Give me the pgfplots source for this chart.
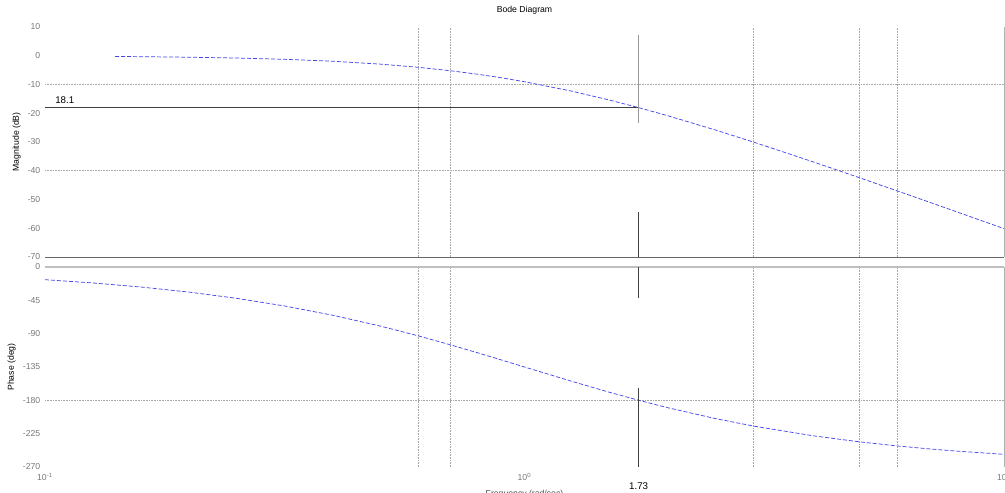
\documentclass[border=0pt]{standalone}
\usepackage{pgfplots}
\pgfplotsset{compat=1.18}
\usepackage{fontspec}
\setmainfont{Liberation Sans}
\definecolor{curve}{RGB}{70,70,235}
\definecolor{ticktext}{RGB}{120,120,120}
\begin{document}
\begin{tikzpicture}
\path[use as bounding box] (-33.75pt,-176.25pt) rectangle (720pt,192.75pt);
\begin{axis}[at={(0pt,0pt)}, anchor=south west, height=172.5pt,
  xmode=log, xmin=0.1, xmax=10,
  width=719.25pt, scale only axis, clip=false,
  axis line style={draw=none},
  major tick length=0pt, minor tick length=0pt, xminorticks=false,
  tick label style={font=\fontsize{6.5}{7.5}\selectfont, text=ticktext},
  /pgf/number format/assume math mode=true,
  xtick={0.1,1,10},
  extra x ticks={0.6,0.7,3,5,6},
  extra x tick labels={},
  extra x tick style={grid=major},
  extra y tick labels={},
  extra y tick style={grid=major},
  major grid style={black!35, dash pattern=on 0.5pt off 0.7pt, line width=0.45pt},
  ymin=-70, ymax=10, ytick={-70,-60,...,10}, extra y ticks={-10,-40},
  xticklabels={},
  title={Bode Diagram},
  title style={at={(axis description cs:0.5,1)}, anchor=center, yshift=6.75pt, font=\fontsize{6.5}{7.5}\selectfont},
  ylabel={Magnitude (dB)},
  ylabel style={font=\fontsize{6.5}{7.5}\selectfont, anchor=center, at={(axis description cs:-0.0295,0.5)}},
]
\draw[black!60, line width=0.6pt] (rel axis cs:0,0) -- (rel axis cs:1,0);
\draw[black!30, line width=0.6pt] (rel axis cs:1,0) -- (rel axis cs:1,1);
\addplot[curve, line width=0.55pt, dash pattern=on 3pt off 1.5pt] coordinates {
  (0.14,-0.25) (0.158,-0.32) (0.2,-0.51) (0.25,-0.79) (0.316,-1.24) (0.4,-1.93)
  (0.5,-2.91) (0.6,-4.01) (0.7,-5.20) (0.8,-6.45) (0.9,-7.73) (1,-9.03)
  (1.25,-12.26) (1.5,-15.36) (1.73,-18.04) (2,-20.97) (2.5,-25.81) (3,-30.00)
  (4,-36.91) (5,-42.45) (6,-47.05) (7,-50.97) (8,-54.39) (10,-60.13)
};
\addplot[black!75, line width=0.6pt] coordinates {(0.1,-18.1) (1.73,-18.1)};
\addplot[black!40, line width=0.8pt] coordinates {(1.73,7.2) (1.73,-23.4)};
\addplot[black!75, line width=0.6pt] coordinates {(1.73,-54.3) (1.73,-70)};
\node[anchor=base west, font=\fontsize{7.3}{8}\selectfont, inner sep=0pt, xshift=7.5pt, yshift=3pt] at (axis cs:0.1,-18.1) {18.1};
\end{axis}
\begin{axis}[at={(0pt,-7.5pt)}, anchor=north west, height=150pt,
  xmode=log, xmin=0.1, xmax=10,
  width=719.25pt, scale only axis, clip=false,
  axis line style={draw=none},
  major tick length=0pt, minor tick length=0pt, xminorticks=false,
  tick label style={font=\fontsize{6.5}{7.5}\selectfont, text=ticktext},
  /pgf/number format/assume math mode=true,
  xtick={0.1,1,10},
  extra x ticks={0.6,0.7,3,5,6},
  extra x tick labels={},
  extra x tick style={grid=major},
  extra y tick labels={},
  extra y tick style={grid=major},
  major grid style={black!35, dash pattern=on 0.5pt off 0.7pt, line width=0.45pt},
  ymin=-270, ymax=0, ytick={-270,-225,...,0}, extra y ticks={-180},
  xticklabels={10\textsuperscript{-1},10\textsuperscript{0},10\textsuperscript{1}},
  xticklabel style={yshift=-1pt},
  ylabel={Phase (deg)},
  ylabel style={font=\fontsize{6.5}{7.5}\selectfont, anchor=center, at={(axis description cs:-0.0349,0.5)}},
]
\draw[black!25, line width=0.8pt] (rel axis cs:0,1) -- (rel axis cs:1,1);
\draw[black!30, line width=0.6pt] (rel axis cs:1,0) -- (rel axis cs:1,1);
\addplot[curve, line width=0.55pt, dash pattern=on 3pt off 1.5pt] coordinates {
  (0.1,-17.13) (0.125,-21.38) (0.158,-26.94) (0.2,-33.93) (0.25,-42.11)
  (0.316,-52.61) (0.4,-65.40) (0.5,-79.70) (0.6,-92.89) (0.7,-104.98)
  (0.8,-115.98) (0.9,-125.96) (1,-135.00) (1.25,-154.02) (1.5,-168.93)
  (1.73,-179.90) (2,-190.30) (2.5,-204.60) (3,-214.70) (4,-227.89)
  (5,-236.07) (6,-241.61) (7,-245.61) (8,-248.62) (10,-252.87)
};
\addplot[black!75, line width=0.6pt] coordinates {(1.73,0) (1.73,-42)};
\addplot[black!75, line width=0.6pt] coordinates {(1.73,-163) (1.73,-270)};
\node[anchor=base, font=\fontsize{7.3}{8}\selectfont, inner sep=0pt, yshift=-16.5pt] at (axis cs:1.73,-270) {1.73};
\node[anchor=north, font=\fontsize{6.5}{7.5}\selectfont, text=black!70, yshift=-14pt] at (axis cs:1,-270) {Frequency (rad/sec)};
\end{axis}
\end{tikzpicture}
\end{document}
